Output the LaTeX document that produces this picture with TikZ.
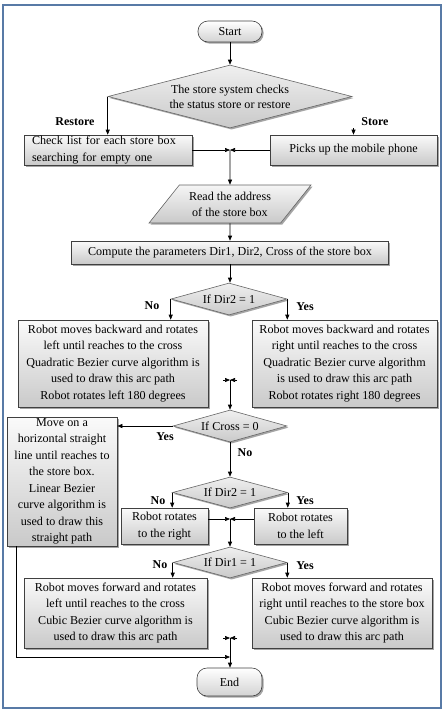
\documentclass[tikz,border=0pt]{standalone}
\usepackage{fontspec}
\setmainfont{Liberation Serif}
\usetikzlibrary{arrows.meta,shapes.geometric,shadows}

\definecolor{framecol}{RGB}{88,122,166}

\tikzset{
  boxshadow/.style={drop shadow={shadow xshift=1.6pt,shadow yshift=-1.6pt,fill=black!70}},
  procbox/.style={rectangle,draw=black!75,line width=0.6pt,top color=gray!4,bottom color=gray!42,
    boxshadow,align=center,inner sep=1pt,font=\fontsize{12.1}{16.5}\selectfont},
  decbox/.style={diamond,draw=black!60,line width=0.6pt,top color=gray!12,bottom color=gray!42,
    boxshadow,align=center,inner sep=0pt,font=\fontsize{12.1}{15}\selectfont},
  termbox/.style={rectangle,rounded corners=10pt,draw=black!75,line width=0.6pt,top color=white,
    bottom color=gray!35,boxshadow,font=\fontsize{12.1}{15}\selectfont},
  iobox/.style={trapezium,trapezium left angle=45,trapezium right angle=135,trapezium stretches=true,
    draw=black!60,line width=0.6pt,top color=gray!8,bottom color=gray!42,boxshadow,align=center,
    inner sep=0pt,font=\fontsize{12.1}{16}\selectfont},
  flow/.style={draw,line width=0.6pt,-{Triangle[length=5pt,width=4pt]}},
  lbl/.style={font=\bfseries\fontsize{12}{14}\selectfont}
}

\begin{document}
\begin{tikzpicture}[x=1pt,y=-1pt]
\useasboundingbox (0,0) rectangle (445,715);
\draw[framecol,line width=1.6pt] (3,5) rectangle (441,708);

%%% START AND FIRST CHECK
\node[termbox,minimum width=64pt,minimum height=21pt] (start) at (230,31.5) {Start};
\node[decbox,minimum width=244pt,minimum height=63pt,aspect=3.9] (d1) at (230,96.5)
  {The store system checks\\the status store or restore};
\node[lbl] (lrest) at (75,122) {Restore};
\node[lbl] (lstore) at (375,122) {Store};
\node[procbox,minimum width=168pt,minimum height=30pt,text width=152pt,align=left] (chk) at (108,150)
  {Check list for each store box\\searching for empty one};
\node[procbox,minimum width=167pt,minimum height=30pt] (pick) at (353.5,150) {Picks up the mobile phone};
\coordinate (m0) at (230,150);
\coordinate (sa) at (353.5,128);

%%% ADDRESS AND PARAMETERS
\node[iobox,minimum width=162pt,minimum height=38pt] (read) at (230,204) {Read the address\\of the store box};
\node[procbox,minimum width=317pt,minimum height=23pt] (comp) at (230,252.5)
  {Compute the parameters Dir1, Dir2, Cross of the store box};

%%% DIR2 FIRST
\node[decbox,minimum width=116pt,minimum height=32pt,aspect=3.6] (d2) at (229,299) {If Dir2 = 1};
\node[lbl] (ln1) at (152,306) {No};
\node[lbl] (ly1) at (305,307) {Yes};
\node[procbox,minimum width=190pt,minimum height=87pt] (bl) at (113,363.5)
  {Robot moves backward and rotates\\left until reaches to the cross\\Quadratic Bezier curve algorithm is\\used to draw this arc path\\Robot rotates left 180 degrees};
\node[procbox,minimum width=185pt,minimum height=87pt] (br) at (344.5,363.5)
  {Robot moves backward and rotates\\right until reaches to the cross\\Quadratic Bezier curve algorithm\\is used to draw this arc path\\Robot rotates right 180 degrees};
\coordinate (m1) at (230,380);
\coordinate (m1l) at (223,380);
\coordinate (m1r) at (237,380);

%%% CROSS
\node[decbox,minimum width=114pt,minimum height=32pt,aspect=3.6] (d3) at (230,426) {If Cross = 0};
\node[lbl] (ly2) at (165,437) {Yes};
\node[lbl] (ln2) at (245,453) {No};
\node[procbox,minimum width=110pt,minimum height=129pt] (mv) at (62,481.5)
  {Move on a\\horizontal straight\\line until reaches to\\the store box.\\Linear Bezier\\curve algorithm is\\used to draw this\\straight path};

%%% DIR2 SECOND
\node[decbox,minimum width=115pt,minimum height=31pt,aspect=3.6] (d4) at (230,492.5) {If Dir2 = 1};
\node[lbl] (ln3) at (158,501) {No};
\node[lbl] (ly3) at (305,501) {Yes};
\node[procbox,minimum width=87pt,minimum height=36pt] (rr) at (164.5,526) {Robot rotates\\to the right};
\node[procbox,minimum width=93pt,minimum height=36pt] (rl) at (300.5,526) {Robot rotates\\to the left};
\coordinate (m2) at (230,519);

%%% DIR1
\node[decbox,minimum width=114pt,minimum height=31pt,aspect=3.6] (d5) at (230,562.5) {If Dir1 = 1};
\node[lbl] (ln4) at (160,565) {No};
\node[lbl] (ly4) at (305,566) {Yes};
\node[procbox,minimum width=183pt,minimum height=70pt] (fl) at (115.5,613)
  {Robot moves forward and rotates\\left until reaches to the cross\\Cubic Bezier curve algorithm is\\used to draw this arc path};
\node[procbox,minimum width=180pt,minimum height=70pt] (fr) at (342,613)
  {Robot moves forward and rotates\\right until reaches to the store box\\Cubic Bezier curve algorithm is\\used to draw this arc path};
\coordinate (m3) at (230,638);
\coordinate (m3l) at (223,638);
\coordinate (m3r) at (237,638);
\coordinate (jn) at (230,657);
\node[termbox,minimum width=65pt,minimum height=28pt] (end) at (229.5,682) {End};

%%% CONNECTORS
\path[flow] (start.south) -- (d1.north);
\path[flow] (d1.west) -- (d1.west |- chk.north);
\path[flow] (sa) -- (pick.north);
\path[flow] (chk.east) -- (m0);
\path[flow] (pick.west) -- (m0);
\path[flow] (m0) -- (read.north);
\path[flow] (read.south) -- (comp.north);
\path[flow] (comp.south) -- (d2.north -| comp.south);
\path[flow] (d2.west) -- (d2.west |- bl.north);
\path[flow] (d2.east) -- (d2.east |- br.north);
\path[flow] (m1l) -- (m1);
\path[flow] (m1r) -- (m1);
\path[flow] (m1) -- (d3.north);
\path[flow] (d3.west) -- (d3.west -| mv.east);
\path[flow] (d3.south) -- (d4.north);
\path[flow] (d4.west) -- (d4.west |- rr.north);
\path[flow] (d4.east) -- (d4.east |- rl.north);
\path[flow] (rr.east |- m2) -- (m2);
\path[flow] (rl.west |- m2) -- (m2);
\path[flow] (m2) -- (d5.north);
\path[flow] (d5.west) -- (d5.west |- fl.north);
\path[flow] (d5.east) -- (d5.east |- fr.north);
\path[flow] (m3l) -- (m3);
\path[flow] (m3r) -- (m3);
\path[flow] (m3) -- (end.north -| m3);
\path[flow] ([xshift=10pt]mv.south west) |- (jn);
\end{tikzpicture}
\end{document}
